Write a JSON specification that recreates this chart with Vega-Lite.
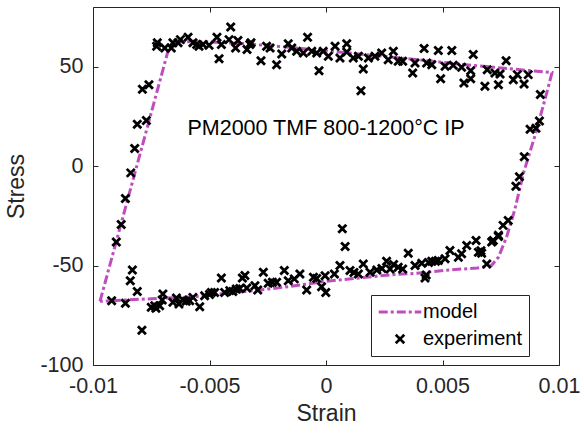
{
  "$schema": "https://vega.github.io/schema/vega-lite/v6.json",
  "width": 466,
  "height": 358,
  "autosize": {"type": "none"},
  "padding": {"left": 93, "top": 7, "right": 25, "bottom": 68},
  "background": "white",
  "config": {
    "font": "Liberation Sans",
    "view": {"stroke": "#262626", "strokeWidth": 1},
    "axis": {
      "domain": false, "grid": false, "tickColor": "#262626", "tickSize": -5, "tickWidth": 1,
      "labelColor": "#262626", "labelFontSize": 21.5, "labelFont": "Liberation Sans",
      "titleColor": "#262626", "titleFontSize": 23, "titleFontWeight": "normal", "titleFont": "Liberation Sans",
      "labelFlush": false, "labelOverlap": false
    }
  },
  "datasets": {
    "model": [
      {"i": 1, "s": -0.0097, "t": -68, "series": "model"},
      {"i": 2, "s": -0.0068, "t": 57, "series": "model"},
      {"i": 3, "s": -0.0066, "t": 60.5, "series": "model"},
      {"i": 4, "s": -0.0063, "t": 62.5, "series": "model"},
      {"i": 5, "s": -0.005, "t": 62.5, "series": "model"},
      {"i": 6, "s": -0.0035, "t": 61.5, "series": "model"},
      {"i": 7, "s": -0.002, "t": 60.2, "series": "model"},
      {"i": 8, "s": 0.0, "t": 58, "series": "model"},
      {"i": 9, "s": 0.003, "t": 54.6, "series": "model"},
      {"i": 10, "s": 0.006, "t": 51, "series": "model"},
      {"i": 11, "s": 0.0097, "t": 47, "series": "model"},
      {"i": 12, "s": 0.0095, "t": 38, "series": "model"},
      {"i": 13, "s": 0.009, "t": 16.5, "series": "model"},
      {"i": 14, "s": 0.00847, "t": -3.7, "series": "model"},
      {"i": 15, "s": 0.0081, "t": -22, "series": "model"},
      {"i": 16, "s": 0.00775, "t": -35.7, "series": "model"},
      {"i": 17, "s": 0.0074, "t": -45.8, "series": "model"},
      {"i": 18, "s": 0.0071, "t": -50, "series": "model"},
      {"i": 19, "s": 0.0065, "t": -51.2, "series": "model"},
      {"i": 20, "s": 0.0053, "t": -52.2, "series": "model"},
      {"i": 21, "s": 0.0039, "t": -53.9, "series": "model"},
      {"i": 22, "s": 0.0028, "t": -54.6, "series": "model"},
      {"i": 23, "s": 0.0, "t": -57.9, "series": "model"},
      {"i": 24, "s": -0.0016, "t": -60.6, "series": "model"},
      {"i": 25, "s": -0.0031, "t": -62.6, "series": "model"},
      {"i": 26, "s": -0.0057, "t": -65.7, "series": "model"},
      {"i": 27, "s": -0.0086, "t": -67.3, "series": "model"},
      {"i": 28, "s": -0.0097, "t": -68, "series": "model"}
    ],
    "exp": [
      {"s": -0.0092, "t": -67.7}, {"s": -0.00861, "t": -69}, {"s": -0.0079, "t": -82.5}, {"s": -0.009, "t": -38.2},
      {"s": -0.00879, "t": -29.3}, {"s": -0.00861, "t": -16.3}, {"s": -0.00838, "t": -3.4}, {"s": -0.00821, "t": 8.9},
      {"s": -0.0081, "t": 21.1}, {"s": -0.00771, "t": 22.9}, {"s": -0.00788, "t": 38.7}, {"s": -0.0076, "t": 40.9},
      {"s": -0.00831, "t": -52.2}, {"s": -0.0084, "t": -57.6}, {"s": -0.0081, "t": -63.1},
      {"s": -0.00724, "t": 62}, {"s": -0.00727, "t": 60.3}, {"s": -0.00692, "t": 59.4}, {"s": -0.00664, "t": 59.4},
      {"s": -0.00657, "t": 62}, {"s": -0.00635, "t": 62}, {"s": -0.00625, "t": 63.6}, {"s": -0.00592, "t": 64.8},
      {"s": -0.00571, "t": 62}, {"s": -0.00555, "t": 61.1}, {"s": -0.00545, "t": 60.3}, {"s": -0.00528, "t": 61.1},
      {"s": -0.00502, "t": 60.8}, {"s": -0.00468, "t": 64.8}, {"s": -0.00459, "t": 54}, {"s": -0.00449, "t": 61.1},
      {"s": -0.00409, "t": 70}, {"s": -0.00416, "t": 63.6}, {"s": -0.00378, "t": 63.1}, {"s": -0.00388, "t": 59.4},
      {"s": -0.00339, "t": 58.6}, {"s": -0.00327, "t": 61.1}, {"s": -0.00322, "t": 62}, {"s": -0.00279, "t": 53},
      {"s": -0.00255, "t": 60.3}, {"s": -0.0024, "t": 59.4}, {"s": -0.00212, "t": 51}, {"s": -0.0019, "t": 56.4},
      {"s": -0.00162, "t": 61.5}, {"s": -0.00147, "t": 59.4}, {"s": -0.00126, "t": 57.7}, {"s": -0.00097, "t": 56.9},
      {"s": -0.00079, "t": 64.8}, {"s": -0.00061, "t": 57.7}, {"s": -0.0004, "t": 56.9}, {"s": -0.0003, "t": 48},
      {"s": -0.00012, "t": 57.7}, {"s": 0.0001, "t": 55.2}, {"s": 0.00039, "t": 60.3}, {"s": 0.0006, "t": 54.4},
      {"s": 0.00089, "t": 61.5}, {"s": 0.00089, "t": 57.4}, {"s": 0.00117, "t": 54.4}, {"s": 0.00139, "t": 55.2},
      {"s": 0.0015, "t": 37.9}, {"s": 0.0016, "t": 48.8}, {"s": 0.00182, "t": 54.4}, {"s": 0.0021, "t": 55.2},
      {"s": 0.00239, "t": 56.9}, {"s": 0.00267, "t": 53.5}, {"s": 0.00289, "t": 57.7}, {"s": 0.0031, "t": 52.7},
      {"s": 0.00329, "t": 52.7}, {"s": 0.00372, "t": 46.8}, {"s": 0.00382, "t": 51.9}, {"s": 0.00421, "t": 59.1},
      {"s": 0.00432, "t": 51.9}, {"s": 0.00454, "t": 51}, {"s": 0.00482, "t": 58.1}, {"s": 0.00492, "t": 43.9},
      {"s": 0.00511, "t": 50.2}, {"s": 0.0054, "t": 58.1}, {"s": 0.00546, "t": 50.7}, {"s": 0.00582, "t": 49.7},
      {"s": 0.00592, "t": 41.8}, {"s": 0.00621, "t": 48}, {"s": 0.00621, "t": 43.9}, {"s": 0.00632, "t": 56.1},
      {"s": 0.00682, "t": 40.1}, {"s": 0.00692, "t": 48.5}, {"s": 0.00725, "t": 46.8}, {"s": 0.0074, "t": 40.9},
      {"s": 0.00747, "t": 46.3}, {"s": 0.00773, "t": 53}, {"s": 0.00804, "t": 43.4}, {"s": 0.00821, "t": 46},
      {"s": 0.0085, "t": 41.3}, {"s": 0.00868, "t": 46}, {"s": 0.0092, "t": 36},
      {"s": 0.00876, "t": 18.5}, {"s": 0.00916, "t": 22.7}, {"s": 0.00901, "t": 19}, {"s": 0.00851, "t": 4.7},
      {"s": 0.0083, "t": -5.4}, {"s": 0.00815, "t": -10.1}, {"s": 0.00782, "t": -27.3}, {"s": 0.0076, "t": -29.8},
      {"s": 0.0074, "t": -34.8}, {"s": 0.00718, "t": -37.4}, {"s": 0.00668, "t": -43.8}, {"s": 0.0069, "t": -49.2},
      {"s": 0.00329, "t": -51.7}, {"s": 0.00353, "t": -43.8}, {"s": 0.00382, "t": -50}, {"s": 0.00411, "t": -48.8},
      {"s": 0.00425, "t": -56.2}, {"s": 0.0043, "t": -54.8}, {"s": 0.0044, "t": -48.5}, {"s": 0.00454, "t": -47.8},
      {"s": 0.0047, "t": -47.8}, {"s": 0.00482, "t": -47.5}, {"s": 0.00511, "t": -46.6}, {"s": 0.00532, "t": -42.4},
      {"s": 0.00568, "t": -45.8}, {"s": 0.00582, "t": -44.1}, {"s": 0.00604, "t": -39.9}, {"s": 0.00644, "t": -37.4},
      {"s": 0.00654, "t": -43.3}, {"s": 0.00665, "t": -42.5}, {"s": 0.00711, "t": -38.2}, {"s": 0.0074, "t": -35.4},
      {"s": -0.00348, "t": -55}, {"s": -0.0034, "t": -61.3}, {"s": -0.00305, "t": -60.1}, {"s": -0.00293, "t": -62.3},
      {"s": -0.00269, "t": -53.4}, {"s": -0.00248, "t": -58.9}, {"s": -0.0023, "t": -58.4}, {"s": -0.00212, "t": -58.4},
      {"s": -0.00179, "t": -52.5}, {"s": -0.00162, "t": -57.6}, {"s": -0.00136, "t": -56.7}, {"s": -0.00112, "t": -54.2},
      {"s": -0.00083, "t": -62.3}, {"s": -0.00054, "t": -55.9}, {"s": -0.0004, "t": -56.5}, {"s": -0.00019, "t": -60.6},
      {"s": -0.00001, "t": -63.5}, {"s": -0.00004, "t": -55.1}, {"s": 0.00036, "t": -54.2}, {"s": 0.0006, "t": -50},
      {"s": 0.0007, "t": -31.5}, {"s": 0.00082, "t": -40.4}, {"s": 0.00103, "t": -52.5}, {"s": 0.0012, "t": -53.5},
      {"s": 0.00139, "t": -54.2}, {"s": 0.0016, "t": -49.2}, {"s": 0.00189, "t": -53.4}, {"s": 0.00218, "t": -52.2},
      {"s": 0.0024, "t": -51.5}, {"s": 0.0026, "t": -47.8}, {"s": 0.00275, "t": -51.7}, {"s": 0.0029, "t": -49.5},
      {"s": 0.0031, "t": -50.8},
      {"s": -0.0075, "t": -71}, {"s": -0.0073, "t": -71.5}, {"s": -0.00735, "t": -70.2}, {"s": -0.00714, "t": -70.2},
      {"s": -0.007, "t": -64.3}, {"s": -0.00703, "t": -67.3}, {"s": -0.00657, "t": -68.5}, {"s": -0.00631, "t": -69.3},
      {"s": -0.00642, "t": -66.3}, {"s": -0.00614, "t": -67.3}, {"s": -0.006, "t": -68}, {"s": -0.00585, "t": -67.7},
      {"s": -0.00571, "t": -66}, {"s": -0.00542, "t": -70.7}, {"s": -0.00521, "t": -65.2}, {"s": -0.005, "t": -64.5},
      {"s": -0.00492, "t": -63.5}, {"s": -0.00478, "t": -63.5}, {"s": -0.00449, "t": -56.2}, {"s": -0.00435, "t": -63.5},
      {"s": -0.00413, "t": -62.6}, {"s": -0.004, "t": -63}, {"s": -0.00385, "t": -61.8}, {"s": -0.0037, "t": -61.5},
      {"s": -0.00359, "t": -56.2}
    ],
    "note": [{"s": 0.0, "t": 18.5, "label": "PM2000 TMF 800-1200°C IP"}]
  },
  "layer": [
    {
      "data": {"name": "model"},
      "mark": {"type": "line", "strokeWidth": 3, "strokeDash": [9, 3, 3, 3], "clip": true},
      "encoding": {
        "x": {"field": "s", "type": "quantitative", "scale": {"domain": [-0.01, 0.01], "nice": false, "zero": false},
              "axis": {"orient": "bottom", "title": "Strain", "values": [-0.01, -0.005, 0, 0.005, 0.01], "labelExpr": "toString(datum.value)", "labelPadding": 15, "titlePadding": 6}},
        "y": {"field": "t", "type": "quantitative", "scale": {"domain": [-100, 80], "nice": false, "zero": false},
              "axis": {"orient": "left", "title": "Stress", "values": [-100, -50, 0, 50], "labelExpr": "toString(datum.value)", "labelPadding": 15, "titlePadding": 11}},
        "order": {"field": "i", "type": "quantitative"},
        "color": {"field": "series", "type": "nominal",
          "scale": {"domain": ["model", "experiment"], "range": ["#BF4DBE", "#000000"]},
          "legend": {
            "title": null, "orient": "none", "legendX": 278, "legendY": 288,
            "fillColor": "white", "strokeColor": "#262626", "padding": 7,
            "labelFontSize": 20, "labelColor": "#000000", "labelFont": "Liberation Sans",
            "symbolSize": 289, "symbolOffset": 12, "labelOffset": 13, "rowPadding": 7,
            "encode": {
              "symbols": {
                "update": {
                  "shape": {"signal": "datum.value === 'model' ? 'M-2.5,0H2.5' : 'M-0.5,-0.5L0.5,0.5M-0.5,0.5L0.5,-0.5'"},
                  "strokeDash": {"signal": "datum.value === 'model' ? [9,3,3,3] : [1,0]"},
                  "strokeWidth": {"signal": "datum.value === 'model' ? 3 : 2.7"},
                  "stroke": {"signal": "datum.value === 'model' ? '#BF4DBE' : '#000000'"},
                  "fill": {"value": "transparent"},
                  "size": {"value": 289},
                  "opacity": {"value": 1}
                }
              }
            }
          }
        }
      }
    },
    {
      "data": {"name": "exp"},
      "transform": [{"calculate": "'experiment'", "as": "series"}],
      "mark": {"type": "point", "shape": "M-1,-1L1,1M-1,1L1,-1", "filled": false, "size": 64, "strokeWidth": 2.8, "opacity": 1},
      "encoding": {
        "x": {"field": "s", "type": "quantitative", "axis": {"orient": "top", "labels": false, "title": null, "values": [-0.01, -0.005, 0, 0.005, 0.01]}},
        "y": {"field": "t", "type": "quantitative", "axis": {"orient": "right", "labels": false, "title": null, "values": [-100, -50, 0, 50]}},
        "color": {"field": "series", "type": "nominal"}
      }
    },
    {
      "data": {"name": "note"},
      "mark": {"type": "text", "fontSize": 21.5, "color": "#000000", "align": "center", "baseline": "middle", "font": "Liberation Sans"},
      "encoding": {
        "x": {"field": "s", "type": "quantitative", "axis": null},
        "y": {"field": "t", "type": "quantitative", "axis": null},
        "text": {"field": "label"}
      }
    }
  ],
  "resolve": {"axis": {"x": "independent", "y": "independent"}}
}
